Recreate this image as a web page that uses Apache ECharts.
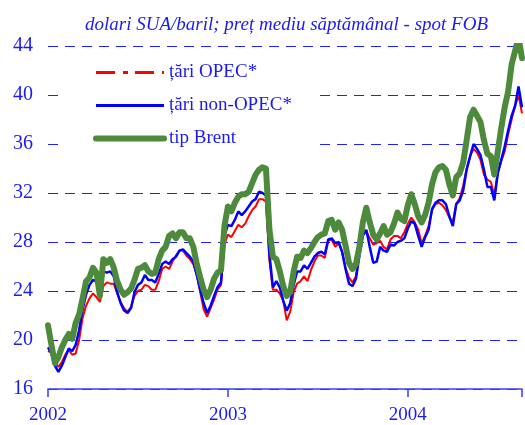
<!DOCTYPE html>
<html>
<head>
<meta charset="utf-8">
<script src="https://cdn.jsdelivr.net/npm/echarts@6/dist/echarts.min.js"></script>
<style>
body{
	margin:0;
	background-color:#ffffff;
}
#chart{
	width:525px;
	height:425px;
}
</style>
</head>
<body>
<div id="chart"></div>
<script type="text/javascript">
// pret saptamanal, USD/baril, saptamana 0 = inceputul lui 2002
var yearLabels = ['2002', '2003', '2004'];
var seriesNames = ['țări OPEC*', 'țări non-OPEC*', 'tip Brent'];

var opec = [19.1,19.0,18.2,17.8,18.2,18.8,19.2,18.8,18.9,20.0,
	21.8,22.8,23.4,23.8,23.5,23.1,24.4,24.7,24.6,24.6,
	23.8,23.1,22.6,22.3,22.7,23.6,24.0,24.1,24.5,24.4,
	24.1,24.1,24.8,25.8,26.0,25.8,26.4,26.9,27.3,27.3,
	26.9,26.6,26.2,25.3,23.9,22.5,21.9,22.6,23.3,24.1,
	24.5,27.8,28.6,28.4,28.9,29.4,29.2,29.5,30.1,30.6,
	30.9,31.5,31.5,31.3,26.5,24.1,24.1,23.8,23.2,21.6,
	22.3,23.9,24.6,24.8,25.2,24.8,25.7,26.4,26.9,26.9,
	26.7,28.1,28.2,27.6,27.9,27.2,25.9,25.1,24.7,25.2,
	27.3,28.9,28.9,28.3,27.8,27.9,28.1,27.6,27.4,28.2,
	28.5,28.5,28.3,28.8,29.5,30.0,29.6,29.0,27.9,28.5,
	29.3,30.6,31.1,31.2,31.0,30.6,30.0,29.6,31.1,31.6,
	32.6,34.0,35.0,35.6,35.3,34.7,33.5,33.1,32.9,31.8,
	33.7,34.6,35.4,36.8,38.0,39.1,40.0,38.5];

var nonOpec = [19.4,18.9,17.9,17.4,17.9,18.6,19.3,19.1,19.6,20.8,
	22.5,23.7,24.5,24.9,24.8,24.8,25.6,25.5,25.6,25.2,
	23.9,23.0,22.4,22.2,22.6,23.9,24.5,24.7,25.3,24.9,
	24.9,24.7,25.4,26.2,26.4,26.2,26.6,26.8,27.3,27.4,
	27.1,26.8,26.4,25.3,24.1,23.0,22.2,22.8,23.6,24.3,
	24.7,28.5,29.4,29.3,29.8,30.5,30.2,30.5,30.9,31.3,
	31.5,32.1,32.0,31.8,27.0,24.3,24.8,24.3,23.2,22.4,
	23.0,24.5,25.6,25.6,26.1,25.8,26.3,26.8,27.1,27.2,
	27.0,28.2,28.3,27.9,28.0,27.2,25.8,24.6,24.4,25.0,
	26.9,28.5,29.0,27.6,26.3,26.4,27.6,27.3,27.2,27.8,
	27.7,28.0,28.1,28.3,29.1,29.7,29.5,28.5,27.6,28.4,
	29.0,30.7,31.2,31.4,31.4,31.1,30.1,29.3,31.1,31.4,
	32.2,33.9,35.0,36.0,35.6,35.1,33.9,32.5,32.5,31.4,
	33.6,34.7,35.8,37.1,38.3,39.1,40.7,39.0];

var brent = [21.2,19.6,18.1,18.6,19.4,20.0,20.5,20.1,21.4,22.1,
	23.4,24.8,25.1,25.9,25.5,23.6,26.6,26.3,26.6,25.9,
	24.8,24.1,23.7,23.9,24.2,24.9,25.8,25.9,26.1,25.6,
	25.4,25.5,26.6,27.3,27.6,28.5,28.7,28.3,28.8,28.8,
	28.3,28.3,27.6,26.2,25.1,24.1,23.5,24.1,25.0,25.5,
	25.7,29.3,30.9,30.5,31.2,31.7,31.9,31.9,32.1,32.8,
	33.5,33.9,34.1,34.0,29.0,26.8,26.6,25.6,24.4,23.6,
	23.9,25.6,26.8,26.7,27.3,27.1,27.5,28.0,28.4,28.6,
	28.7,29.7,29.8,29.0,29.6,29.0,27.7,26.3,25.8,26.2,
	27.6,29.6,30.8,29.6,28.6,28.2,28.7,29.3,28.6,28.8,
	29.5,30.4,29.9,29.7,31.0,31.9,31.1,30.1,29.6,30.2,
	31.2,32.7,33.7,34.1,34.2,33.9,32.7,31.8,33.3,33.6,
	34.5,36.3,38.2,38.8,38.3,37.8,36.3,35.2,35.0,33.5,
	35.4,37.3,39.0,40.3,42.5,43.6,44.7,43.0];

var blueText = '#1a1af5';
var serif = '"Liberation Serif", "Times New Roman", serif';

function toPoints(arr){
	return arr.map(function(v, i){ return [i, v]; });
}

var chart = echarts.init(document.getElementById('chart'));
chart.setOption({
	animation: false,
	title: {
		text: 'dolari SUA/baril; preț mediu săptămânal - spot FOB',
		left: 80,
		top: 10,
		textStyle: {
			color: blueText,
			fontFamily: serif,
			fontStyle: 'italic',
			fontWeight: 'normal',
			fontSize: 19
		}
	},
	grid: {
		left: 48,
		right: 0,
		top: 46,
		bottom: 35
	},
	legend: {
		orient: 'vertical',
		left: 65,
		top: 53,
		padding: [10, 26, 8, 28],
		backgroundColor: '#ffffff',
		itemWidth: 68,
		itemHeight: 20,
		itemGap: 14,
		itemStyle: {opacity: 0},
		textStyle: {
			color: blueText,
			fontFamily: serif,
			fontSize: 19,
			padding: [0, 0, 0, 0]
		},
		data: [
			{name: seriesNames[0], lineStyle: {type: [19, 8, 5, 7], width: 3}},
			{name: seriesNames[1], lineStyle: {width: 3}},
			{name: seriesNames[2], lineStyle: {width: 6, cap: 'round'}}
		]
	},
	xAxis: {
		type: 'value',
		min: 0,
		max: 137,
		interval: 52,
		axisLine: {
			lineStyle: {color: '#3c3cff', width: 1.5}
		},
		axisTick: {
			length: 8,
			lineStyle: {color: '#3c3cff', width: 1.5}
		},
		axisLabel: {
			color: blueText,
			fontFamily: serif,
			fontSize: 19,
			margin: 17,
			formatter: function(v){ return yearLabels[Math.round(v / 52)]; }
		},
		splitLine: {show: false}
	},
	yAxis: {
		type: 'value',
		min: 16,
		max: 44,
		interval: 4,
		axisLine: {show: false},
		axisTick: {show: false},
		axisLabel: {
			color: blueText,
			fontFamily: serif,
			fontSize: 20,
			margin: 15
		},
		splitLine: {
			lineStyle: {color: '#2020ff', width: 1, type: [10, 7]}
		}
	},
	series: [
		{
			name: seriesNames[0],
			type: 'line',
			data: toPoints(opec),
			showSymbol: false,
			symbol: 'none',
			lineStyle: {color: '#ff0000', width: 2},
			itemStyle: {color: '#ff0000'}
		},
		{
			name: seriesNames[1],
			type: 'line',
			data: toPoints(nonOpec),
			showSymbol: false,
			symbol: 'none',
			lineStyle: {color: '#0000ff', width: 2.5},
			itemStyle: {color: '#0000ff'}
		},
		{
			name: seriesNames[2],
			type: 'line',
			data: toPoints(brent),
			showSymbol: false,
			symbol: 'none',
			lineStyle: {color: '#4d8a3c', width: 6, join: 'round', cap: 'round'},
			itemStyle: {color: '#4d8a3c'}
		}
	]
});

window.addEventListener('resize', function(){
	chart.resize();
});
</script>
</body>
</html>
